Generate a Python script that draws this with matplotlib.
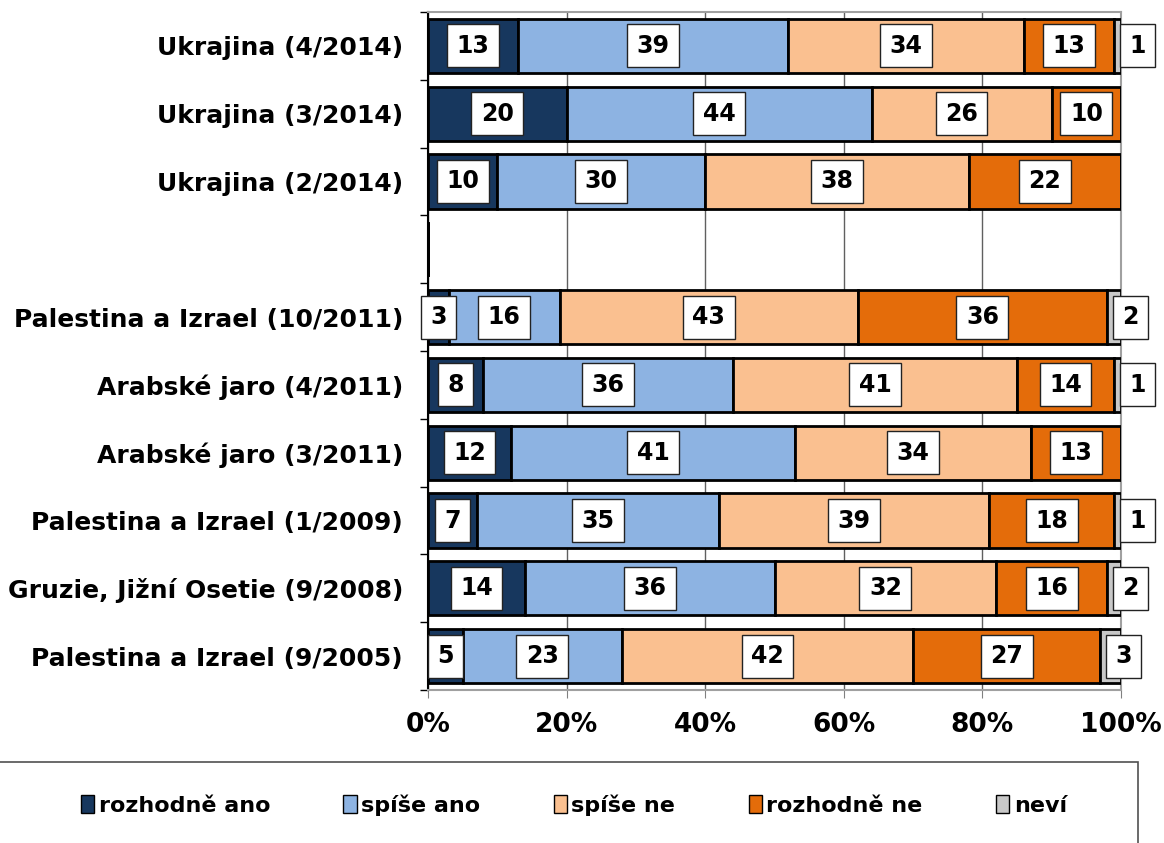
import matplotlib.pyplot as plt
from matplotlib.patches import Rectangle, Patch

plt.rcParams['font.family'] = ['DejaVu Sans']
plt.rcParams['font.weight'] = 'bold'

categories = ['Ukrajina (4/2014)', 'Ukrajina (3/2014)', 'Ukrajina (2/2014)', '',
              'Palestina a Izrael (10/2011)', 'Arabské jaro (4/2011)', 'Arabské jaro (3/2011)',
              'Palestina a Izrael (1/2009)', 'Gruzie, Jižní Osetie (9/2008)',
              'Palestina a Izrael (9/2005)']
series = ['rozhodně ano', 'spíše ano', 'spíše ne', 'rozhodně ne', 'neví']
rozhodne_ano = [13, 20, 10, 0, 3, 8, 12, 7, 14, 5]
spise_ano = [39, 44, 30, 0, 16, 36, 41, 35, 36, 23]
spise_ne = [34, 26, 38, 0, 43, 41, 34, 39, 32, 42]
rozhodne_ne = [13, 10, 22, 0, 36, 14, 13, 18, 16, 27]
nevi = [1, 0, 0, 0, 2, 1, 0, 1, 2, 3]
colors = ['#17375E', '#8DB3E2', '#FAC090', '#E46C0A', '#C8C8C8']

values = [rozhodne_ano, spise_ano, spise_ne, rozhodne_ne, nevi]

fig = plt.figure(figsize=(11.64, 8.43), dpi=100)
ax = fig.add_axes([428 / 1164, 1 - 690 / 843, 693 / 1164, 678 / 843])

y = list(range(len(categories)))
left = [0] * len(categories)
for k, vals in enumerate(values):
    ax.barh(y, vals, left=left, height=0.8, color=colors[k], edgecolor='black',
            linewidth=2, zorder=3)
    for i, v in enumerate(vals):
        if v == 0:
            continue
        if k == 4:
            # Excel pushes the tiny "neví" labels just past the bar end
            x, ha = left[i] + 2.2, 'left'
        else:
            x, ha = left[i] + v / 2, 'center'
        ax.text(x, y[i], str(v), ha=ha, va='center', fontsize=17, fontweight='bold',
                zorder=5, clip_on=False,
                bbox=dict(boxstyle='square,pad=0.4', fc='white', ec='#222222', lw=1))
    left = [a + b for a, b in zip(left, vals)]

ax.set_xlim(0, 100)
ax.set_ylim(len(categories) - 0.5, -0.5)
ax.set_xticks([0, 20, 40, 60, 80, 100])
ax.set_xticklabels(['0%', '20%', '40%', '60%', '80%', '100%'], fontsize=19, fontweight='bold')
ax.set_yticks(y)
ax.set_yticklabels(categories, fontsize=18, fontweight='bold')
ax.tick_params(axis='y', length=0, pad=18)
ax.set_yticks([i - 0.5 for i in range(len(categories) + 1)], minor=True)
ax.tick_params(axis='y', which='minor', length=6, width=1, direction='out')
ax.tick_params(axis='x', length=6, pad=10, color='#808080')
ax.xaxis.grid(True, color='#606060', linewidth=1, zorder=0)
ax.spines['left'].set_color('black')
ax.spines['left'].set_linewidth(1.5)
for s in ['top', 'right', 'bottom']:
    ax.spines[s].set_color('#A0A0A0')
    ax.spines[s].set_linewidth(1.5)

fig.add_artist(Rectangle((-0.01, -0.01), 1138 / 1164 + 0.01, 1 - 762 / 843 + 0.01,
                         transform=fig.transFigure, fill=False, ec='#505050', lw=1.2))
handles = [Patch(facecolor=c, edgecolor='black', label=s) for c, s in zip(colors, series)]
fig.legend(handles=handles, loc='center', bbox_to_anchor=(0.493, 1 - 805 / 843), ncol=5,
           frameon=False, handlelength=0.6, handleheight=0.9,
           handletextpad=0.2, columnspacing=3.3, prop={'weight': 'bold', 'size': 16})

fig.savefig('out.png', dpi=100)
